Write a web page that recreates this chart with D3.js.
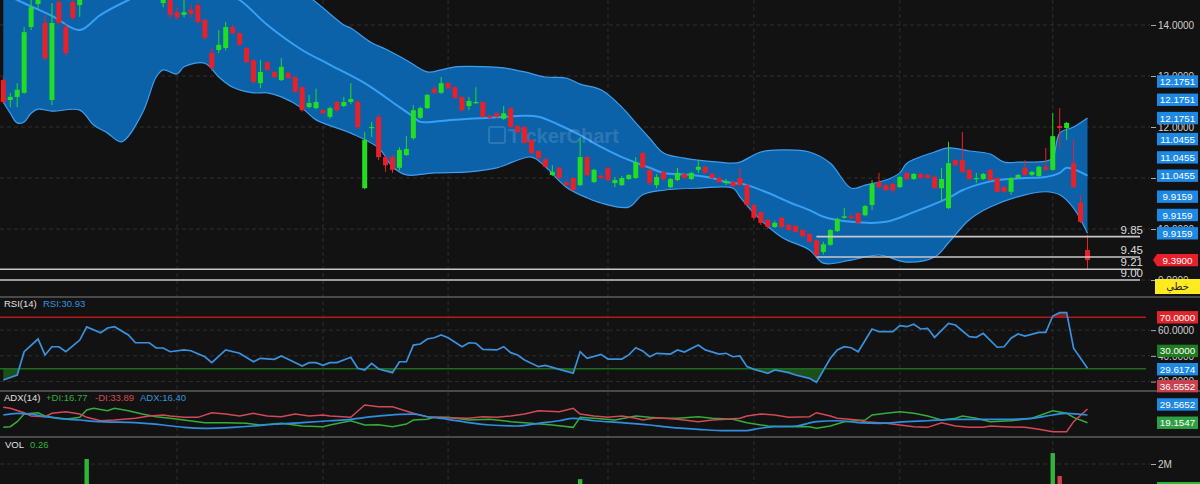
<!DOCTYPE html>
<html><head><meta charset="utf-8">
<script src="https://cdn.jsdelivr.net/npm/d3@7"></script>
<style>body{margin:0;background:#121212;overflow:hidden}svg{display:block}</style>
</head><body><svg id="c" width="1200" height="484"></svg>
<script>
// ---------- DATA ----------
const opens  = [12.92,12.53,12.59,12.67,13.96,14.41,14.04,12.53,14.45,13.96,14.45,14.39,14.60,14.90,15.10,14.90,15.20,15.00,15.30,15.10,14.95,15.10,14.90,14.43,14.55,14.25,14.20,14.30,14.39,14.10,13.45,13.51,13.55,13.96,13.84,13.55,13.31,12.86,13.27,13.08,12.92,13.06,12.98,12.78,12.39,12.37,12.33,12.20,12.49,12.41,12.49,12.49,10.80,11.98,12.20,11.41,11.41,11.20,11.45,11.78,12.18,12.37,12.75,12.67,12.86,12.78,12.59,12.41,12.47,12.49,12.22,12.27,12.16,12.37,12.02,12.00,11.75,11.53,11.37,11.06,11.20,10.92,11.00,10.86,11.41,10.92,11.04,11.20,10.90,10.86,10.98,11.00,11.49,11.16,10.86,11.12,10.82,10.96,11.08,10.98,11.16,11.22,11.08,11.00,10.90,10.92,11.00,10.86,10.47,10.33,10.18,10.04,10.22,10.08,10.06,9.98,9.90,9.78,9.55,9.69,9.96,10.22,10.25,10.31,10.27,10.47,10.92,10.86,10.88,10.82,11.10,10.98,11.08,11.06,11.02,10.80,10.41,11.35,11.35,11.16,10.98,10.98,11.16,11.00,10.82,10.73,11.00,11.20,11.06,11.04,11.22,11.16,12.02,11.98,11.29,10.51,9.59];
const highs  = [12.98,12.67,12.86,13.96,14.50,14.70,14.20,14.43,14.55,14.05,14.55,14.70,15.00,15.15,15.15,15.25,15.25,15.35,15.35,15.15,15.15,15.15,14.95,14.70,14.60,14.35,14.49,14.40,14.45,14.12,13.55,13.90,14.06,14.00,13.86,13.57,13.33,13.31,13.29,13.10,13.35,13.08,13.00,12.80,12.63,12.75,12.35,12.40,12.51,12.59,12.86,12.53,11.90,12.10,12.25,11.45,11.45,11.60,11.82,12.43,12.40,12.65,12.80,12.98,12.88,12.80,12.60,12.59,12.78,12.51,12.24,12.29,12.41,12.39,12.04,12.02,11.77,11.55,11.39,11.25,11.22,10.94,11.02,11.80,11.43,11.18,11.08,11.22,11.02,11.04,11.08,11.41,11.51,11.18,11.08,11.14,11.00,11.20,11.10,11.12,11.35,11.24,11.10,11.02,10.98,10.94,11.20,10.88,10.49,10.35,10.20,10.16,10.24,10.10,10.08,10.00,9.92,9.80,9.75,10.00,10.22,10.41,10.30,10.33,10.47,10.96,11.10,10.88,10.90,11.04,11.12,11.10,11.10,11.08,11.04,11.20,11.71,11.37,11.90,11.18,11.10,11.10,11.18,11.02,10.84,11.02,11.08,11.35,11.14,11.24,11.59,12.27,12.37,12.10,11.75,10.67,9.88];
const lows   = [12.45,12.39,12.39,12.65,13.90,14.30,13.30,12.43,14.00,13.40,14.10,14.16,14.55,14.85,14.85,14.85,14.95,14.95,15.05,14.90,14.90,14.85,14.65,14.35,14.12,14.10,14.15,14.15,14.00,13.70,13.10,13.45,13.50,13.82,13.59,13.25,12.86,12.76,13.10,12.96,12.90,12.94,12.67,12.30,12.37,12.35,12.25,12.16,12.30,12.39,12.45,11.96,10.78,11.80,11.35,11.12,11.10,11.15,11.43,11.75,12.16,12.35,12.65,12.65,12.74,12.55,12.30,12.33,12.45,12.18,12.16,12.18,12.14,11.98,11.88,11.67,11.47,11.37,11.20,11.04,10.98,10.84,10.74,10.84,11.04,10.90,10.98,10.94,10.82,10.84,10.96,10.98,11.18,10.86,10.80,10.96,10.80,10.94,10.98,10.96,11.10,11.08,10.98,10.90,10.86,10.82,10.84,10.45,10.18,10.08,10.00,10.02,10.02,9.96,9.92,9.84,9.73,9.45,9.50,9.67,9.94,10.20,10.18,10.10,10.25,10.37,10.80,10.74,10.70,10.80,10.96,10.96,10.98,10.98,10.78,10.53,10.39,11.23,11.10,10.96,10.90,10.96,10.94,10.71,10.71,10.67,10.98,11.04,11.04,11.02,11.14,11.14,11.59,11.75,10.80,10.12,9.21];
const closes = [12.49,12.59,12.73,13.86,14.35,14.60,13.35,14.04,14.04,13.45,14.14,14.60,14.90,15.10,14.90,15.20,15.00,15.30,15.10,14.95,15.10,14.90,14.70,14.59,14.20,14.15,14.25,14.22,14.06,13.75,13.16,13.61,13.96,13.84,13.61,13.27,12.88,13.08,13.12,12.98,13.18,12.96,12.69,12.33,12.47,12.49,12.27,12.37,12.33,12.49,12.55,12.00,11.75,12.00,11.41,11.25,11.16,11.55,11.57,12.33,12.37,12.63,12.67,12.86,12.76,12.57,12.33,12.51,12.49,12.20,12.18,12.20,12.27,12.00,11.90,11.69,11.49,11.39,11.22,11.12,11.00,10.86,10.76,11.41,11.06,11.16,11.00,10.96,10.96,11.00,11.06,11.31,11.20,10.90,11.02,10.98,10.98,11.10,11.00,11.10,11.22,11.10,11.00,10.92,10.94,10.84,10.86,10.47,10.22,10.12,10.04,10.12,10.04,9.98,9.94,9.86,9.75,9.49,9.70,9.98,10.20,10.25,10.22,10.12,10.45,10.88,10.82,10.76,10.76,11.02,10.98,11.08,11.00,11.00,10.80,10.98,11.29,11.25,11.12,10.98,11.00,11.08,10.96,10.73,10.73,11.00,11.06,11.06,11.12,11.22,11.16,11.82,11.98,12.08,10.82,10.14,9.39];

// Bollinger bands: [candle index, price]
const bbUpper = [[0,15.2],[21,15.8],[35,15.3],[44,14.55],[49,14.0],[50,13.94],[53,13.65],[55,13.53],[58,13.31],[61,13.08],[63,13.12],[65,13.18],[70,13.18],[72,13.16],[75,13.08],[78,12.98],[81,12.96],[83,12.84],[86,12.73],[89,12.39],[91,12.08],[93,11.78],[95,11.49],[98,11.39],[100,11.35],[103,11.31],[105,11.29],[106,11.31],[109,11.51],[112,11.55],[116,11.51],[119,11.29],[122,10.80],[124,10.86],[127,10.96],[129,11.10],[130,11.29],[134,11.51],[136,11.59],[139,11.53],[142,11.47],[144,11.31],[146,11.31],[150,11.33],[151,11.39],[152,11.88],[154,12.0],[156,12.1751]];
const bbMid = [[0,14.62],[2,14.49],[7,14.18],[11,13.9],[14,14.2],[18,14.49],[25,14.9],[30,14.75],[34,14.49],[38,14.0],[43,13.51],[47,13.22],[52,12.86],[57,12.39],[59,12.2],[60,12.1],[63,12.12],[67,12.16],[70,12.18],[72,12.2],[75,12.22],[77,12.2],[80,12.04],[83,11.84],[86,11.61],[89,11.41],[93,11.2],[95,11.1],[99,11.06],[102,11.0],[104,10.92],[107,10.86],[110,10.71],[113,10.53],[116,10.37],[118,10.24],[122,10.14],[127,10.14],[131,10.33],[136,10.61],[138,10.76],[141,10.9],[143,10.96],[147,11.0],[150,11.02],[152,11.1],[153,11.2],[156,11.0455]];
const bbLower = [[0,12.49],[1,12.27],[2,12.08],[3,12.1],[4,12.27],[5,12.35],[7,12.31],[11,12.33],[13,12.04],[15,11.88],[17,11.71],[20,12.27],[22,12.98],[23,13.12],[25,13.04],[26,13.18],[29,13.25],[31,12.98],[33,12.78],[36,12.67],[38,12.67],[40,12.59],[43,12.37],[45,12.14],[50,11.88],[54,11.59],[56,11.22],[58,11.06],[62,11.1],[67,11.12],[71,11.2],[76,11.41],[78,11.22],[81,10.82],[84,10.61],[86,10.51],[90,10.43],[92,10.67],[95,10.76],[100,10.8],[105,10.8],[106,10.63],[108,10.31],[112,9.84],[116,9.59],[118,9.33],[122,9.39],[126,9.49],[130,9.35],[134,9.45],[136,9.73],[139,10.18],[142,10.43],[147,10.67],[150,10.73],[152,10.67],[154,10.41],[156,9.9159]];

const rsi = [[0,21.2],[2,25.1],[3,43.2],[5,53.1],[6,40.7],[7,47.1],[8,47.1],[9,43.2],[11,52.3],[12,62.5],[14,58.0],[15,61.7],[16,62.7],[18,56.2],[19,50.2],[21,50.2],[22,46.1],[23,46.1],[24,43.2],[26,44.6],[27,44.0],[29,39.3],[30,34.7],[32,44.6],[34,42.0],[36,35.4],[37,38.1],[39,37.3],[40,39.9],[41,37.3],[43,32.1],[44,34.7],[45,34.7],[46,32.6],[47,34.7],[48,34.7],[50,38.9],[51,30.3],[52,29.0],[53,34.2],[54,29.8],[56,26.9],[57,35.4],[58,35.4],[59,48.4],[60,49.2],[61,53.1],[62,54.1],[63,56.2],[64,54.1],[66,47.1],[67,50.2],[68,49.8],[69,45.1],[71,44.6],[72,47.1],[73,42.5],[74,40.7],[75,36.8],[77,31.6],[78,32.6],[80,29.5],[82,26.4],[83,43.2],[84,38.1],[86,41.2],[87,37.5],[89,37.5],[90,40.7],[91,46.3],[92,43.8],[93,39.3],[94,42.0],[96,41.4],[97,44.6],[98,43.0],[100,48.4],[101,44.6],[103,41.4],[104,42.0],[105,39.3],[106,39.9],[107,31.6],[108,29.5],[110,26.4],[111,29.0],[113,26.9],[114,25.1],[116,22.5],[117,19.4],[119,38.1],[120,44.6],[121,47.1],[122,46.3],[123,43.2],[125,60.9],[126,58.8],[128,58.8],[129,63.5],[130,62.7],[131,64.6],[132,60.9],[133,61.4],[134,54.4],[136,65.3],[137,64.0],[139,54.9],[140,54.4],[141,57.5],[143,46.7],[144,47.1],[145,53.7],[146,57.0],[147,55.4],[149,58.3],[150,58.3],[151,71.0],[152,73.6],[153,73.6],[154,45.9],[156,30.3]];
const rsiTicks = [20, 40, 60];

const minusDI = [[0,38.8],[1,37.5],[3,31.9],[4,27.7],[6,26.8],[7,31.1],[9,33.2],[11,30.2],[12,26.0],[14,21.7],[16,22.6],[19,24.8],[21,27.7],[23,29.0],[24,27.7],[26,26.0],[28,26.0],[30,31.9],[32,30.2],[34,27.7],[36,31.1],[38,27.7],[40,26.8],[42,30.2],[44,27.7],[46,29.0],[47,27.7],[50,26.0],[52,41.7],[54,39.5],[56,39.5],[59,31.1],[61,26.8],[64,25.5],[67,24.8],[69,26.8],[71,26.0],[73,27.7],[75,30.2],[77,34.4],[80,33.2],[82,37.5],[83,30.2],[85,27.7],[87,26.0],[89,27.7],[91,24.8],[92,22.6],[94,25.5],[95,24.8],[97,23.5],[100,20.5],[102,22.6],[104,23.5],[106,24.8],[107,27.7],[109,30.2],[111,29.0],[113,26.0],[116,26.8],[117,31.9],[119,27.7],[120,24.8],[123,22.6],[124,20.5],[127,18.4],[129,16.3],[131,14.1],[133,13.3],[135,19.2],[137,15.0],[139,13.3],[141,13.3],[142,15.0],[144,14.1],[147,13.3],[149,10.8],[151,7.8],[153,7.8],[154,20.5],[156,36.6]];
const plusDI = [[0,13.3],[1,14.1],[2,20.5],[3,30.2],[5,31.9],[6,27.7],[8,24.8],[9,23.5],[11,26.0],[12,35.3],[13,37.5],[15,34.4],[16,37.5],[18,34.4],[20,30.2],[22,26.8],[24,24.8],[26,22.6],[29,19.2],[32,19.2],[35,18.4],[37,16.3],[40,18.4],[43,15.0],[46,14.1],[47,16.3],[50,21.7],[52,16.3],[54,16.6],[56,14.1],[58,17.5],[59,22.6],[61,23.5],[62,26.0],[64,26.0],[67,22.6],[70,23.5],[73,20.5],[76,18.4],[79,16.3],[82,13.3],[83,26.0],[85,24.8],[88,22.6],[91,27.7],[93,26.0],[95,24.8],[97,24.8],[100,26.8],[102,24.8],[105,23.5],[107,19.2],[110,15.0],[113,14.1],[116,14.1],[117,12.1],[119,15.0],[121,20.5],[124,22.6],[125,29.0],[127,31.1],[129,33.2],[131,31.1],[133,27.7],[135,22.6],[137,24.8],[138,27.7],[140,24.8],[142,20.5],[145,21.7],[148,24.8],[151,34.4],[153,31.1],[154,26.0],[156,19.2]];
const adx = [[0,29.0],[2,31.1],[4,30.2],[6,26.8],[8,24.8],[11,22.6],[14,20.5],[19,19.2],[23,16.3],[26,13.3],[29,12.1],[33,13.3],[36,15.0],[39,17.2],[43,19.2],[47,21.7],[50,23.5],[53,26.8],[57,29.9],[59,30.2],[61,26.8],[64,23.5],[67,19.2],[70,16.3],[74,15.0],[77,18.4],[80,21.7],[82,24.8],[85,21.7],[89,19.2],[93,16.3],[96,13.3],[100,10.8],[104,9.0],[107,9.0],[108,10.8],[111,14.1],[114,15.0],[117,20.5],[120,21.7],[123,19.2],[126,18.4],[130,20.5],[133,21.7],[137,23.5],[141,23.5],[144,23.5],[148,24.8],[151,29.0],[153,31.1],[156,29.0]];

// volume (millions) – only the bars tall enough to show
const volume = [[12,2.18],[83,1.46],[151,2.39],[152,1.57]];

const priceTicks = [14,13,12,11,10,9];
const monthGridIdx = [25,46,64,87,108,129,151];
const levels = [9.85, 9.45, 9.21, 9.00];
const levelStartIdx = [117, 117, null, null];
const bandValues = [12.1751, 11.0455, 9.9159];
const lastPrice = 9.39;
const rsiLast = 29.6174;
const adxLabels = [19.1547, 29.5652, 36.5552];

// ---------- CHART ----------
const svg = d3.select("#c");
const F = "'Liberation Sans', Arial, sans-serif";
svg.append("rect").attr("width",1200).attr("height",484).attr("fill","#121212");

const x  = d3.scaleLinear().domain([0,156]).range([3.3,1087.5]);
const yP = d3.scaleLinear().domain([9,14]).range([280,25]);
const yR = d3.scaleLinear().domain([30,70]).range([368.7,317.3]);
const yA = d3.scaleLinear().domain([0,60]).range([437.8,390.6]);
const yV = d3.scaleLinear().domain([0,2]).range([520,464]);

const panels = {main:[0,297], rsi:[297,391], adx:[391,437], vol:[437,484]};
const defs = svg.append("defs");
Object.entries(panels).forEach(([k,[a,b]])=>{
  defs.append("clipPath").attr("id","clip-"+k).append("rect").attr("x",0).attr("y",a).attr("width",1146).attr("height",b-a);
});
defs.append("clipPath").attr("id","clip-rsi-low").append("rect").attr("x",0).attr("y",yR(30)).attr("width",1146).attr("height",391-yR(30));
defs.append("clipPath").attr("id","clip-rsi-high").append("rect").attr("x",0).attr("y",297).attr("width",1146).attr("height",yR(70)-297);

// grids
const grid = svg.append("g").attr("stroke","#2e2e2e").attr("stroke-dasharray","4,3").attr("stroke-width",1);
priceTicks.forEach(p=>grid.append("line").attr("x1",0).attr("x2",1150).attr("y1",yP(p)).attr("y2",yP(p)));
rsiTicks.forEach(p=>grid.append("line").attr("x1",0).attr("x2",1150).attr("y1",yR(p)).attr("y2",yR(p)));
grid.append("line").attr("x1",0).attr("x2",1150).attr("y1",yV(2)).attr("y2",yV(2));
monthGridIdx.forEach(i=>grid.append("line").attr("x1",x(i)).attr("x2",x(i)).attr("y1",0).attr("y2",484));

// Bollinger
const main = svg.append("g").attr("clip-path","url(#clip-main)");
const pts = arr => arr.map(d=>[x(d[0]), yP(d[1])]);
const curve = d3.line().curve(d3.curveCatmullRom.alpha(0.5));
const up = pts(bbUpper), lo = pts(bbLower), mid = pts(bbMid);
const fillPath = curve(up) + curve(lo.slice().reverse()).replace(/^M/,"L") + "Z";
main.append("path").attr("d",fillPath).attr("fill","#0c62a8");
main.append("path").attr("d",curve(up)).attr("fill","none").attr("stroke","#3f9ded").attr("stroke-width",1.2);
main.append("path").attr("d",curve(lo)).attr("fill","none").attr("stroke","#3f9ded").attr("stroke-width",1.2);
main.append("path").attr("d",curve(mid)).attr("fill","none").attr("stroke","#35a0f5").attr("stroke-width",2);

// watermark
const wm = main.append("g").attr("opacity",0.13);
wm.append("rect").attr("x",489).attr("y",127).attr("width",16).attr("height",16).attr("rx",2).attr("fill","none").attr("stroke","#fff").attr("stroke-width",2);
wm.append("text").attr("x",508).attr("y",143).attr("font-family",F).attr("font-weight","bold").attr("font-size",20).attr("fill","#fff").text("TickerChart");

// candles
const UP="#22dd22", DN="#e8202a";
const idx = d3.range(opens.length);
const cg = main.append("g");
cg.selectAll("line.w").data(idx).join("line")
  .attr("x1",i=>x(i)).attr("x2",i=>x(i)).attr("y1",i=>yP(highs[i])).attr("y2",i=>yP(lows[i]))
  .attr("stroke",i=>closes[i]>=opens[i]?UP:DN).attr("stroke-width",1);
cg.selectAll("rect.b").data(idx).join("rect")
  .attr("x",i=>x(i)-2.5).attr("width",5)
  .attr("y",i=>yP(Math.max(opens[i],closes[i])))
  .attr("height",i=>Math.max(1.2,Math.abs(yP(opens[i])-yP(closes[i]))))
  .attr("fill",i=>closes[i]>=opens[i]?UP:DN);

// support lines
levels.forEach((lv,k)=>{
  const x0 = levelStartIdx[k]==null ? 0 : x(levelStartIdx[k]);
  svg.append("line").attr("x1",x0).attr("x2",1140).attr("y1",yP(lv)).attr("y2",yP(lv))
    .attr("stroke","#c8c8c8").attr("stroke-width",1.6);
  svg.append("text").attr("x",1143).attr("y",yP(lv)-3).attr("text-anchor","end")
    .attr("font-family",F).attr("font-size",11.5).attr("fill","#dcdcdc").text(lv.toFixed(2));
});

// panel separators
[297,391,437].forEach(y=>svg.append("line").attr("x1",0).attr("x2",1200).attr("y1",y).attr("y2",y).attr("stroke","#5c5c5c").attr("stroke-width",1.5));

// value boxes (positions collected so fully covered tick labels can be dropped)
const STEP = 18.3;
const boxes = [];
bandValues.forEach(v=>{ for(let j=0;j<3;j++) boxes.push({y:yP(v)-j*STEP, t:v.toFixed(4), c:"#1e88e5"}); });
boxes.push({y:yR(70), t:"70.0000", c:"#e0262b"});
boxes.push({y:yR(rsiLast), t:rsiLast.toFixed(4), c:"#1e88e5"});
boxes.push({y:yR(rsiLast)-STEP, t:"30.0000", c:"#1f7d1f"});
const adxCols = ["#2ea043","#1e88e5","#c9414e"];
adxLabels.forEach((v,k)=>boxes.push({y:yA(adxLabels[0])-k*STEP, t:v.toFixed(4), c:adxCols[k]}));

// axes
function rightAxis(scale, ticks, fmt){
  const g = svg.append("g").attr("transform","translate(1151,0)")
    .call(d3.axisRight(scale).tickValues(ticks).tickFormat(fmt).tickSize(5).tickPadding(2));
  g.select(".domain").remove();
  g.selectAll("line").attr("stroke","#aaa");
  g.selectAll("text").attr("fill","#cfcfcf").attr("font-family",F).attr("font-size",10);
  g.selectAll(".tick").each(function(d){
    const ty = scale(d);
    if (boxes.some(b=>Math.abs(b.y-ty)<3)) d3.select(this).select("text").remove();
  });
}
rightAxis(yP, priceTicks, d3.format(".4f"));
rightAxis(yR, rsiTicks, d3.format(".4f"));
rightAxis(yV, [2], d=>d+"M");

// RSI
const rsiG = svg.append("g").attr("clip-path","url(#clip-rsi)");
const rp = rsi.map(d=>[x(d[0]), yR(d[1])]);
const areaLow = d3.area().x(d=>d[0]).y0(yR(30)).y1(d=>d[1]);
rsiG.append("path").attr("d",areaLow(rp)).attr("fill","#1c4f1c").attr("clip-path","url(#clip-rsi-low)");
const areaHigh = d3.area().x(d=>d[0]).y0(yR(70)).y1(d=>d[1]);
rsiG.append("path").attr("d",areaHigh(rp)).attr("fill","#7a1f22").attr("clip-path","url(#clip-rsi-high)");
rsiG.append("line").attr("x1",0).attr("x2",1146).attr("y1",yR(70)).attr("y2",yR(70)).attr("stroke","#b3191c").attr("stroke-width",1.6);
rsiG.append("line").attr("x1",0).attr("x2",1146).attr("y1",yR(30)).attr("y2",yR(30)).attr("stroke","#1d6b1d").attr("stroke-width",1.6);
rsiG.append("path").attr("d",d3.line()(rp)).attr("fill","none").attr("stroke","#3a92df").attr("stroke-width",1.7);

// ADX
const adxG = svg.append("g").attr("clip-path","url(#clip-adx)");
const ap = arr => arr.map(d=>[x(d[0]), yA(d[1])]);
adxG.append("path").attr("d",d3.line()(ap(plusDI))).attr("fill","none").attr("stroke","#35ad3a").attr("stroke-width",1.5);
adxG.append("path").attr("d",d3.line()(ap(minusDI))).attr("fill","none").attr("stroke","#d24a55").attr("stroke-width",1.5);
adxG.append("path").attr("d",d3.line().curve(d3.curveMonotoneX)(ap(adx))).attr("fill","none").attr("stroke","#2e8ee0").attr("stroke-width",1.7);

// Volume
const volG = svg.append("g").attr("clip-path","url(#clip-vol)");
volG.selectAll("rect").data(volume).join("rect")
  .attr("x",d=>x(d[0])-2.2).attr("width",4.4)
  .attr("y",d=>yV(d[1])).attr("height",d=>yV(0)-yV(d[1]))
  .attr("fill",d=>closes[d[0]]>=opens[d[0]]?"#2fb53a":"#d0414b");

// panel titles
function label(xp,y,txt,col){svg.append("text").attr("x",xp).attr("y",y).attr("font-family",F).attr("font-size",9.5).attr("fill",col).text(txt);}
label(4,307,"RSI(14)","#e0e0e0"); label(43,307,"RSI:30.93","#3a92df");
label(4,401,"ADX(14)","#e0e0e0"); label(46,401,"+DI:16.77","#35ad3a"); label(95,401,"-DI:33.89","#d24a55"); label(140,401,"ADX:16.40","#3a92df");
label(5,448,"VOL","#e0e0e0"); label(30,448,"0.26","#2fb53a");

// draw boxes
boxes.forEach(b=>{
  svg.append("rect").attr("x",1157).attr("y",b.y-6.2).attr("width",41).attr("height",12.4).attr("fill",b.c);
  svg.append("text").attr("x",1177.5).attr("y",b.y+3.6).attr("text-anchor","middle").attr("font-family",F)
    .attr("font-size",9.8).attr("fill","#fff").text(b.t);
});
// last price box with pointer
const yl = yP(lastPrice);
svg.append("path").attr("d",`M1153,${yl} L1157,${yl-6.2} L1198,${yl-6.2} L1198,${yl+6.2} L1157,${yl+6.2} Z`).attr("fill","#e8202a");
svg.append("text").attr("x",1177.5).attr("y",yl+3.6).attr("text-anchor","middle").attr("font-family",F).attr("font-size",9.8).attr("fill","#fff").text(lastPrice.toFixed(4));
// yellow scale-type box
svg.append("rect").attr("x",1155).attr("y",yP(9)-1).attr("width",45).attr("height",15).attr("fill","#ffeb1f");
svg.append("text").attr("x",1177.5).attr("y",yP(9)+10).attr("text-anchor","middle").attr("font-family","'DejaVu Sans', sans-serif").attr("font-size",10).attr("fill","#222").text("خطي");
// volume value box (mostly below the frame)
svg.append("rect").attr("x",1157).attr("y",482).attr("width",43).attr("height",12).attr("fill","#2fb53a");
</script></body></html>
